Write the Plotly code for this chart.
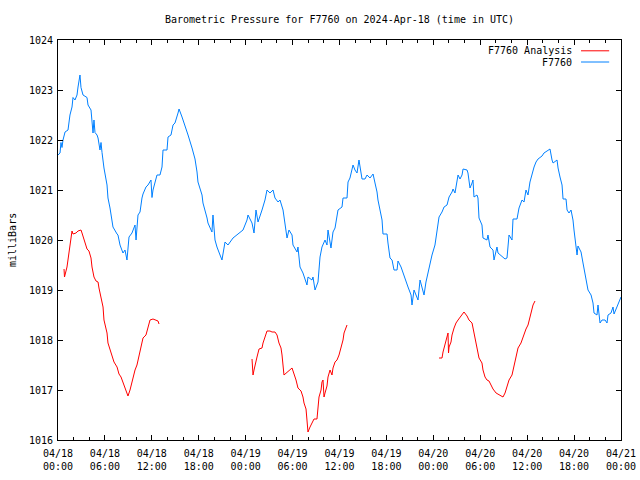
import plotly.graph_objects as go
from datetime import datetime, timedelta

START = datetime(2024, 4, 18, 0, 0)

# F7760 observed pressure: hours since 2024-04-18 00:00 UTC, and mbar
blue_hours = [0.0, 0.26, 0.38, 0.51, 0.64, 0.90, 1.28, 1.53, 1.79, 1.92, 2.17, 2.43, 2.56, 2.81, 2.94,
              3.20, 3.71, 3.84, 4.22, 4.48, 4.6, 4.73, 4.99, 5.12, 5.37, 5.5, 5.63, 5.88, 6.27, 6.39,
              6.65, 7.03, 7.55, 7.67, 7.93, 8.31, 8.57, 8.82, 9.08, 9.46, 9.85, 9.98, 10.23, 10.49,
              10.74, 10.87, 11.25, 11.51, 11.89, 12.02, 12.15, 12.41, 12.66, 13.04, 13.30, 13.43,
              13.94, 14.07, 14.45, 14.71, 14.96, 15.35, 15.48, 15.86, 16.24, 16.63, 17.14, 17.52,
              17.78, 17.9, 18.42, 18.54, 19.06, 19.18, 19.69, 19.82, 20.08, 20.33, 20.72, 20.97,
              21.36, 21.74, 22.38, 22.89, 23.28, 23.66, 24.17, 24.30, 24.81, 25.07, 25.32, 25.58,
              26.09, 26.47, 26.73, 27.11, 27.5, 27.75, 28.14, 28.39, 28.78, 28.9, 29.03, 29.29,
              29.54, 29.93, 30.05, 30.57, 30.69, 30.95, 31.33, 31.59, 31.84, 31.97, 32.48, 32.61,
              32.87, 33.25, 33.51, 33.76, 34.15, 34.40, 34.53, 34.91, 35.17, 35.43, 35.81, 36.32,
              36.45, 36.96, 37.09, 37.34, 37.6, 37.73, 37.98, 38.24, 38.49, 38.88, 39.26, 39.52,
              39.9, 40.29, 40.54, 40.80, 40.92, 41.18, 41.44, 41.56, 42.08, 42.2, 42.46, 42.72,
              42.97, 43.36, 43.48, 43.87, 44.12, 44.51, 44.76, 45.15, 45.27, 45.53, 45.78, 46.04,
              46.3, 46.68, 46.81, 47.06, 47.32, 47.58, 47.83, 48.21, 48.47, 48.73, 49.11, 49.37,
              49.75, 50.01, 50.39, 50.52, 50.77, 51.03, 51.16, 51.41, 51.67, 51.8, 52.31, 52.43,
              52.69, 52.95, 53.07, 53.2, 53.58, 53.71, 53.84, 54.22, 54.35, 54.86, 54.99, 55.25,
              55.63, 55.76, 56.14, 56.27, 56.78, 57.17, 57.42, 57.68, 58.06, 58.19, 58.7, 58.96,
              59.34, 59.6, 59.85, 60.11, 60.36, 60.62, 60.88, 61.13, 61.39, 61.9, 62.15, 62.54,
              62.92, 63.18, 63.31, 63.82, 63.95, 64.2, 64.46, 64.59, 64.97, 65.1, 65.35, 65.61,
              65.86, 65.99, 66.12, 66.38, 66.5, 66.89, 67.14, 67.4, 67.65, 67.78, 68.17, 68.42,
              68.55, 68.93, 69.06, 69.32, 69.57, 69.96, 70.21, 70.34, 70.72, 70.98, 71.11, 71.49,
              71.75, 72.0]
blue_mbar = [1021.7, 1021.74, 1021.95, 1021.85, 1022.0, 1022.16, 1022.2, 1022.5, 1022.66, 1022.85,
             1022.8, 1022.9, 1023.06, 1023.3, 1023.05, 1022.9, 1022.85, 1022.7, 1022.6, 1022.14,
             1022.4, 1022.15, 1022.1, 1022.04, 1021.8, 1021.95, 1021.75, 1021.44, 1021.1, 1020.84,
             1020.64, 1020.26, 1020.12, 1020.1, 1019.9, 1019.74, 1019.8, 1019.6, 1020.06, 1020.14,
             1020.3, 1020.0, 1020.5, 1020.56, 1020.84, 1020.92, 1021.06, 1021.1, 1021.2, 1020.85,
             1021.0, 1021.16, 1021.3, 1021.3, 1021.46, 1021.8, 1021.8, 1022.06, 1022.1, 1022.3,
             1022.34, 1022.54, 1022.62, 1022.46, 1022.3, 1022.1, 1021.84, 1021.62, 1021.36, 1021.16,
             1020.9, 1020.74, 1020.44, 1020.34, 1020.16, 1020.5, 1020.0, 1019.86, 1019.7, 1019.6,
             1019.96, 1019.9, 1020.04, 1020.1, 1020.16, 1020.2, 1020.4, 1020.5, 1020.34, 1020.14,
             1020.6, 1020.36, 1020.6, 1020.8, 1021.0, 1020.94, 1021.0, 1020.84, 1020.76, 1020.8,
             1020.6, 1020.46, 1020.24, 1020.04, 1020.2, 1020.1, 1019.9, 1019.76, 1019.86, 1019.46,
             1019.34, 1019.2, 1019.1, 1019.26, 1019.2, 1019.26, 1019.0, 1019.16, 1019.66, 1019.86,
             1020.0, 1019.9, 1020.2, 1019.84, 1020.16, 1020.24, 1020.6, 1020.66, 1020.84, 1020.84,
             1021.16, 1021.24, 1021.4, 1021.5, 1021.4, 1021.34, 1021.6, 1021.22, 1021.22, 1021.3,
             1021.24, 1021.32, 1021.14, 1020.96, 1020.8, 1020.6, 1020.4, 1020.12, 1020.12, 1019.94,
             1019.64, 1019.6, 1019.4, 1019.4, 1019.58, 1019.46, 1019.34, 1019.14, 1019.06, 1018.9,
             1018.7, 1019.0, 1018.88, 1018.8, 1019.2, 1019.0, 1018.9, 1019.16, 1019.36, 1019.54,
             1019.7, 1019.9, 1020.14, 1020.46, 1020.56, 1020.66, 1020.7, 1020.86, 1020.96, 1021.02,
             1020.94, 1021.24, 1021.3, 1021.22, 1021.3, 1021.42, 1021.4, 1021.34, 1021.04, 1021.14,
             1021.2, 1020.86, 1020.9, 1020.84, 1020.44, 1020.3, 1020.04, 1020.0, 1020.1, 1019.86,
             1019.8, 1019.6, 1019.86, 1019.74, 1019.66, 1019.62, 1019.64, 1020.1, 1020.0, 1020.42,
             1020.42, 1020.64, 1020.8, 1020.76, 1021.0, 1020.9, 1021.16, 1021.34, 1021.46, 1021.56,
             1021.62, 1021.68, 1021.74, 1021.78, 1021.82, 1021.6, 1021.54, 1021.6, 1021.44, 1021.26,
             1021.1, 1020.82, 1020.82, 1020.6, 1020.54, 1020.6, 1020.4, 1020.2, 1020.0, 1019.7,
             1019.88, 1019.76, 1019.54, 1019.34, 1019.16, 1019.0, 1018.9, 1018.74, 1018.54, 1018.5,
             1018.7, 1018.34, 1018.4, 1018.4, 1018.34, 1018.5, 1018.54, 1018.66, 1018.52, 1018.66,
             1018.78, 1018.86]

# F7760 Analysis: three segments separated by gaps (None)
red_hours = [0.77, 0.83, 1.15, 1.28, 1.41, 1.53, 1.66, 1.79, 1.92, 2.3, 2.56, 2.94, 3.07, 3.33, 3.71,
             3.96, 4.22, 4.35, 4.6, 4.86, 5.12, 5.24, 5.5, 5.76, 5.88, 6.27, 6.39, 6.78, 6.91, 7.16,
             7.55, 7.8, 8.06, 8.31, 8.7, 8.95, 9.21, 9.46, 9.85, 10.1, 10.49, 10.74, 10.87, 11.25,
             11.51, 11.77, 12.15, 12.41, 12.79, 12.92,
             None,
             24.81, 24.94, 25.07, 25.32, 25.45, 25.71, 26.09, 26.22, 26.47, 26.73, 27.11, 27.37,
             27.75, 28.01, 28.26, 28.52, 28.65, 28.78, 28.9, 29.93, 30.18, 30.44, 30.69, 31.08,
             31.33, 31.46, 31.72, 31.84, 31.97, 32.23, 32.48, 32.74, 33.12, 33.25, 33.38, 33.64,
             33.76, 33.89, 34.02, 34.15, 34.4, 34.53, 34.79, 35.04, 35.17, 35.43, 35.68, 35.94,
             36.19, 36.45, 36.58, 36.83, 36.96,
             None,
             48.73, 49.11, 49.24, 49.5, 49.75, 49.88, 49.94, 50.01, 50.26, 50.39, 50.65, 50.9,
             51.16, 51.54, 51.92, 52.31, 52.56, 52.95, 53.07, 53.33, 53.58, 53.84, 54.22, 54.35,
             54.61, 54.86, 55.12, 55.38, 55.63, 56.02, 56.27, 56.65, 56.91, 57.17, 57.42, 57.68,
             58.06, 58.32, 58.58, 58.83, 59.21, 59.47, 59.85, 60.11, 60.36, 60.62, 60.75, 61.0]
red_mbar = [1019.42, 1019.26, 1019.46, 1019.6, 1019.76, 1019.9, 1020.02, 1020.18, 1020.12, 1020.14,
            1020.18, 1020.2, 1020.14, 1020.0, 1019.82, 1019.78, 1019.64, 1019.46, 1019.26, 1019.18,
            1019.16, 1019.04, 1018.86, 1018.66, 1018.4, 1018.14, 1017.94, 1017.72, 1017.66, 1017.56,
            1017.46, 1017.32, 1017.26, 1017.14, 1017.0, 1016.88, 1017.0, 1017.18, 1017.4, 1017.5,
            1017.76, 1017.94, 1018.04, 1018.1, 1018.26, 1018.4, 1018.42, 1018.4, 1018.38, 1018.32,
            None,
            1017.62, 1017.3, 1017.4, 1017.54, 1017.66, 1017.82, 1017.84, 1017.94, 1018.06, 1018.18,
            1018.18, 1018.16, 1018.16, 1018.1, 1017.94, 1017.84, 1017.7, 1017.46, 1017.3, 1017.44,
            1017.34, 1017.2, 1017.04, 1016.98, 1016.86, 1016.74, 1016.62, 1016.46, 1016.16, 1016.26,
            1016.34, 1016.42, 1016.42, 1016.6, 1016.86, 1017.0, 1017.16, 1017.2, 1016.86, 1016.94,
            1017.08, 1017.26, 1017.4, 1017.3, 1017.44, 1017.56, 1017.6, 1017.7, 1017.84, 1018.0,
            1018.14, 1018.24, 1018.3,
            None,
            1017.64, 1017.64, 1017.76, 1017.94, 1018.06, 1018.14, 1017.74, 1017.86, 1017.96, 1018.1,
            1018.24, 1018.34, 1018.4, 1018.48, 1018.56, 1018.48, 1018.4, 1018.34, 1018.24, 1018.04,
            1017.8, 1017.64, 1017.54, 1017.4, 1017.26, 1017.2, 1017.18, 1017.1, 1017.02, 1016.94,
            1016.92, 1016.88, 1016.86, 1016.94, 1017.06, 1017.2, 1017.3, 1017.5, 1017.64, 1017.84,
            1017.94, 1018.06, 1018.22, 1018.3, 1018.46, 1018.6, 1018.7, 1018.78]

tick_hours = [0, 6, 12, 18, 24, 30, 36, 42, 48, 54, 60, 66, 72]
tick_labels = ["04/18<br>00:00", "04/18<br>06:00", "04/18<br>12:00", "04/18<br>18:00",
               "04/19<br>00:00", "04/19<br>06:00", "04/19<br>12:00", "04/19<br>18:00",
               "04/20<br>00:00", "04/20<br>06:00", "04/20<br>12:00", "04/20<br>18:00",
               "04/21<br>00:00"]
y_ticks = [1016, 1017, 1018, 1019, 1020, 1021, 1022, 1023, 1024]

TITLE = "Barometric Pressure for F7760 on 2024-Apr-18 (time in UTC)"
Y_TITLE = "milliBars"
SERIES_NAMES = ["F7760 Analysis", "F7760"]
COLORS = ["#ff0000", "#0080ff"]


def to_time(hours):
    return [START + timedelta(hours=h) if h is not None else None for h in hours]


FONT = "DejaVu Sans Mono"
FS = 10

fig = go.Figure()
fig.add_trace(go.Scatter(x=to_time(red_hours), y=red_mbar, mode="lines", name=SERIES_NAMES[0],
                         line=dict(color=COLORS[0], width=1), connectgaps=False, showlegend=False))
fig.add_trace(go.Scatter(x=to_time(blue_hours), y=blue_mbar, mode="lines", name=SERIES_NAMES[1],
                         line=dict(color=COLORS[1], width=1), showlegend=False))

# gnuplot-style legend: text right-aligned, line sample on the right
for i, (name, col) in enumerate(zip(SERIES_NAMES, COLORS)):
    yy = 0.973 - i * 0.028
    fig.add_annotation(x=0.916, y=yy, xref="paper", yref="paper", text=name, showarrow=False,
                       xanchor="right", yanchor="middle", font=dict(family=FONT, size=FS, color="black"))
    fig.add_shape(type="line", xref="paper", yref="paper", x0=0.929, x1=0.979, y0=yy, y1=yy,
                  line=dict(color=col, width=1))

# y-axis title as rotated text left of the tick labels
fig.add_annotation(x=-46 / 563, y=0.5, xref="paper", yref="paper", text=Y_TITLE, showarrow=False,
                   textangle=-90, xanchor="center", yanchor="middle",
                   font=dict(family=FONT, size=FS, color="black"))

fig.update_layout(
    width=640, height=480,
    margin=dict(l=58, r=19, t=40, b=40, autoexpand=False),
    paper_bgcolor="white", plot_bgcolor="white",
    font=dict(family=FONT, size=FS, color="black"),
    title=dict(text=TITLE, x=0.5, xref="paper", xanchor="center", yref="container",
               y=1 - 19 / 480, yanchor="middle",
               font=dict(family=FONT, size=FS, color="black")),
    showlegend=False,
)
fig.update_xaxes(
    range=[START, START + timedelta(hours=72)],
    tickvals=to_time(tick_hours), ticktext=tick_labels,
    ticks="inside", ticklen=5, tickcolor="black", tickwidth=1,
    minor=dict(dtick=2 * 3600 * 1000, tick0=START, ticks="inside", ticklen=3, tickcolor="black", tickwidth=1),
    showline=True, linecolor="black", linewidth=1, mirror="allticks",
    showgrid=False, zeroline=False, tickfont=dict(family=FONT, size=FS), automargin=False,
    ticklabelstandoff=4,
)
fig.update_yaxes(
    range=[1016, 1024], tickvals=y_ticks,
    ticks="inside", ticklen=5, tickcolor="black", tickwidth=1,
    showline=True, linecolor="black", linewidth=1, mirror="allticks",
    showgrid=False, zeroline=False, tickfont=dict(family=FONT, size=FS), automargin=False,
    ticklabelstandoff=2,
)

fig.write_html("out.html", config={"displayModeBar": False},
               post_script="document.body.style.margin='0px';")
